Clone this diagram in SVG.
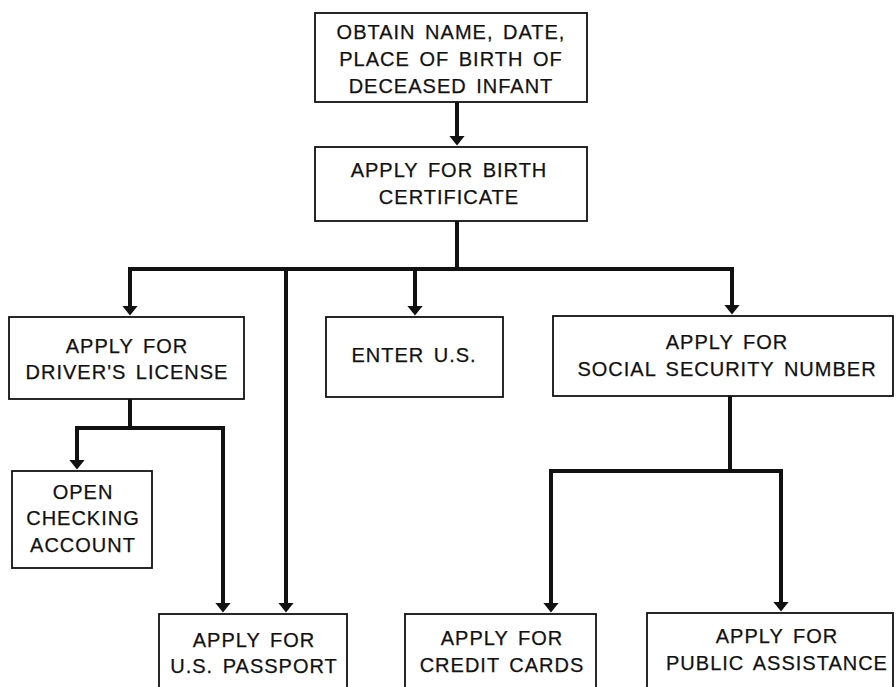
<svg xmlns="http://www.w3.org/2000/svg" width="896" height="687" viewBox="0 0 896 687">
<style>
  .box { fill: #fff; stroke: #111; stroke-width: 1.8; }
  .lbl { font-family: "Liberation Sans", Arial, sans-serif; font-size: 20px; letter-spacing: 1px; word-spacing: 3px; fill: #111; stroke: #111; stroke-width: 0.25; text-anchor: middle; }
  .conn { fill: none; stroke: #111; stroke-width: 4; stroke-linejoin: miter; }
</style>
<defs>
  <marker id="arr" viewBox="0 0 10 10" refX="0.5" refY="5" markerWidth="10" markerHeight="16" markerUnits="userSpaceOnUse" orient="auto" preserveAspectRatio="none">
    <path d="M0,0 L10,5 L0,10 z" fill="#111"/>
  </marker>
</defs>
<rect width="896" height="687" fill="#fff"/>

<g id="connectors">
  <path class="conn" d="M457,102 V136" marker-end="url(#arr)"/>
  <path class="conn" d="M457,221 V269 H130 V306" marker-end="url(#arr)"/>
  <path class="conn" d="M286,269 V603" marker-end="url(#arr)"/>
  <path class="conn" d="M415,269 V306" marker-end="url(#arr)"/>
  <path class="conn" d="M457,269 H732 V305" marker-end="url(#arr)"/>
  <path class="conn" d="M130,399 V428 H77 V460" marker-end="url(#arr)"/>
  <path class="conn" d="M130,428 H223 V603" marker-end="url(#arr)"/>
  <path class="conn" d="M730,396 V471 H551 V603" marker-end="url(#arr)"/>
  <path class="conn" d="M730,471 H781 V602" marker-end="url(#arr)"/>
</g>

<g id="obtain">
  <rect class="box" x="315" y="13" width="272" height="89"/>
  <text class="lbl" x="451" y="39">OBTAIN NAME, DATE,</text>
  <text class="lbl" x="451" y="66">PLACE OF BIRTH OF</text>
  <text class="lbl" x="451" y="93">DECEASED INFANT</text>
</g>

<g id="birth">
  <rect class="box" x="315" y="147" width="272" height="74"/>
  <text class="lbl" x="449" y="177">APPLY FOR BIRTH</text>
  <text class="lbl" x="449" y="204">CERTIFICATE</text>
</g>

<g id="drivers">
  <rect class="box" x="9" y="317" width="235" height="82"/>
  <text class="lbl" x="127" y="353">APPLY FOR</text>
  <text class="lbl" x="127" y="379">DRIVER'S LICENSE</text>
</g>

<g id="enter">
  <rect class="box" x="326" y="317" width="177" height="80"/>
  <text class="lbl" x="414" y="362">ENTER U.S.</text>
</g>

<g id="ssn">
  <rect class="box" x="553" y="316" width="340" height="80"/>
  <text class="lbl" x="727" y="349">APPLY FOR</text>
  <text class="lbl" x="727" y="376">SOCIAL SECURITY NUMBER</text>
</g>

<g id="checking">
  <rect class="box" x="12" y="471" width="140" height="97"/>
  <text class="lbl" x="83" y="499">OPEN</text>
  <text class="lbl" x="83" y="525">CHECKING</text>
  <text class="lbl" x="83" y="552">ACCOUNT</text>
</g>

<g id="passport">
  <rect class="box" x="159" y="614" width="188" height="90"/>
  <text class="lbl" x="254" y="647">APPLY FOR</text>
  <text class="lbl" x="254" y="673">U.S. PASSPORT</text>
</g>

<g id="credit">
  <rect class="box" x="405" y="614" width="191" height="90"/>
  <text class="lbl" x="502" y="645">APPLY FOR</text>
  <text class="lbl" x="502" y="672">CREDIT CARDS</text>
</g>

<g id="public">
  <rect class="box" x="647" y="613" width="246" height="90"/>
  <text class="lbl" x="777" y="643">APPLY FOR</text>
  <text class="lbl" x="777" y="670">PUBLIC ASSISTANCE</text>
</g>
</svg>
